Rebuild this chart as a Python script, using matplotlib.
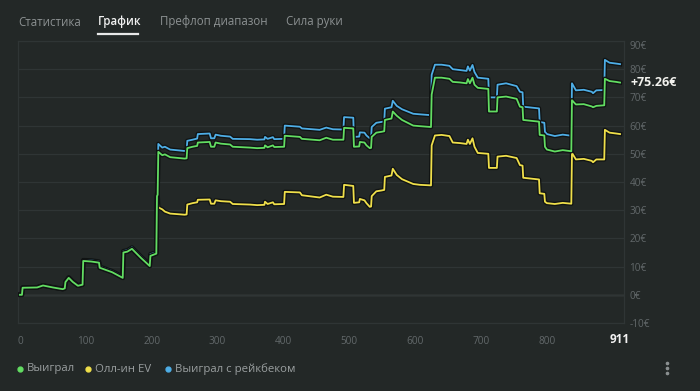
import matplotlib.pyplot as plt
import matplotlib.patheffects as pe

# hand number breakpoints and cumulative results (EUR)
hands = [0, 3, 4, 26, 35, 50, 65, 68, 69, 74, 80, 88, 95, 96, 108, 120, 121, 140, 156, 157,
         163, 170, 184, 197, 198, 207, 208, 209, 210, 216, 220, 228, 250, 253, 254, 262, 269,
         270, 288, 290, 295, 297, 305, 319, 323, 349, 360, 371, 372, 376, 384, 386, 401, 402,
         425, 428, 455, 465, 475, 491, 492, 506, 507, 515, 516, 523, 526, 531, 533, 534, 541,
         549, 553, 554, 564, 566, 572, 580, 597, 607, 624, 625, 630, 640, 652, 657, 668, 678,
         680, 683, 687, 690, 695, 711, 712, 724, 725, 738, 754, 759, 763, 764, 784, 788, 789,
         796, 797, 800, 812, 824, 837, 838, 844, 856, 868, 870, 875, 887, 888, 895, 905, 911]

won = [0, 0, 2.5, 2.6, 3.3, 2.6, 2.0, 2.3, 4.5, 6.0, 4.6, 3.2, 3.6, 12.0, 11.8, 11.4, 9.6,
       8.0, 6.0, 15.0, 15.3, 16.3, 13.0, 10.2, 13.8, 14.6, 35.0, 35.5, 50.7, 49.5, 49.8, 48.8,
       48.3, 48.4, 52.0, 52.5, 52.8, 54.0, 54.2, 52.5, 52.5, 54.0, 53.6, 53.3, 52.5, 52.2,
       52.0, 52.1, 53.0, 52.3, 53.0, 52.4, 52.5, 56.4, 56.0, 55.3, 54.8, 55.7, 55.0, 55.0,
       59.2, 59.0, 52.5, 52.6, 54.2, 54.0, 53.0, 52.0, 52.1, 56.0, 57.5, 57.8, 58.0, 62.0,
       62.5, 65.0, 63.5, 62.0, 60.0, 59.8, 59.5, 71.0, 77.0, 77.0, 76.6, 75.5, 75.3, 75.0,
       76.5, 75.0, 77.0, 74.5, 73.4, 73.0, 65.0, 65.0, 70.0, 70.3, 69.5, 66.7, 66.5, 62.0,
       61.5, 61.4, 56.7, 56.5, 52.5, 51.5, 50.8, 51.3, 50.9, 69.0, 67.5, 67.6, 66.8, 66.5,
       67.0, 67.2, 76.6, 75.8, 75.5, 75.26]

allin_ev = [0, 0, 2.5, 2.6, 3.3, 2.6, 2.0, 2.3, 4.5, 6.0, 4.6, 3.2, 3.6, 12.0, 11.8, 11.4,
            9.6, 8.0, 6.0, 15.0, 15.3, 16.3, 13.0, 10.2, 13.8, 14.6, 35.0, 35.5, 31.0, 30.3,
            29.5, 28.8, 28.4, 28.5, 32.0, 32.5, 32.8, 33.7, 33.8, 32.3, 32.3, 33.5, 33.2, 33.0,
            32.2, 32.0, 31.8, 31.9, 33.0, 32.2, 32.8, 32.1, 32.2, 36.5, 36.3, 35.3, 34.5, 35.5,
            34.8, 34.7, 39.0, 38.6, 32.6, 32.8, 34.0, 33.5, 32.5, 31.2, 31.3, 35.0, 36.7, 37.0,
            37.2, 41.8, 42.3, 44.7, 42.5, 41.0, 39.3, 39.0, 38.8, 53.0, 56.5, 56.7, 56.3, 54.0,
            53.8, 53.5, 55.0, 53.5, 55.5, 52.5, 50.3, 50.0, 45.0, 45.0, 49.0, 49.3, 48.5, 46.0,
            45.8, 41.5, 41.0, 40.9, 36.0, 35.8, 33.0, 32.5, 32.2, 32.6, 32.3, 50.3, 48.0, 48.2,
            47.5, 47.0, 48.0, 48.0, 58.5, 57.5, 57.2, 57.0]

won_rakeback = [0, 0, 2.6, 2.7, 3.4, 2.7, 2.1, 2.4, 4.6, 6.2, 4.8, 3.4, 3.8, 12.3, 12.2,
                11.8, 10.0, 8.4, 6.4, 15.5, 15.8, 16.8, 13.5, 10.7, 14.4, 15.1, 35.8, 36.3,
                53.5, 52.2, 52.5, 51.5, 51.0, 51.1, 54.6, 55.0, 55.4, 57.0, 57.2, 55.5, 55.5,
                56.8, 56.4, 56.1, 55.3, 55.2, 55.0, 55.1, 56.0, 55.3, 55.9, 55.2, 55.3, 60.0,
                59.6, 59.0, 58.5, 59.3, 58.7, 58.6, 63.0, 62.8, 56.0, 56.1, 57.6, 57.5, 56.5,
                55.5, 55.6, 59.5, 61.0, 61.3, 61.5, 66.0, 66.5, 68.8, 67.0, 65.8, 64.2, 64.0,
                63.7, 78.0, 81.6, 81.6, 81.2, 80.0, 79.7, 79.4, 81.0, 79.5, 81.5, 79.0, 77.0,
                76.6, 70.0, 70.0, 74.5, 75.0, 74.0, 72.0, 71.8, 66.7, 66.2, 66.1, 61.3, 61.0,
                57.8, 57.0, 56.3, 56.8, 56.4, 75.0, 72.5, 72.7, 72.0, 71.5, 72.5, 72.6, 83.3,
                82.3, 82.0, 81.8]

series_names = ['Выиграл', 'Олл-ин EV', 'Выиграл с рейкбеком']
tabs = ['Статистика', 'График', 'Префлоп диапазон', 'Сила руки']
x_ticks = [0, 100, 200, 300, 400, 500, 600, 700, 800]
y_ticks = [-10, 0, 10, 20, 30, 40, 50, 60, 70, 80, 90]
total_hands = 911

bg = '#232827'
green = '#62dd62'
yellow = '#efdf4a'
blue = '#4eaee6'
muted = '#62686a'

plt.rcParams['font.family'] = ['Open Sans', 'DejaVu Sans']

fig = plt.figure(figsize=(7, 3.91), dpi=100, facecolor=bg)
ax = fig.add_axes([18 / 700, 68 / 391, 606 / 700, 282 / 391])
ax.set_facecolor(bg)

shadow = [pe.Stroke(linewidth=3.2, foreground='#101313', joinstyle='round'), pe.Normal()]
for vals, col in [(allin_ev, yellow), (won_rakeback, blue), (won, green)]:
    ax.plot(hands, vals, color=col, lw=1.3, path_effects=shadow,
            solid_joinstyle='round', zorder=3)

ax.set_xlim(-3, 917)
ax.set_ylim(-10, 90)
ax.set_yticks(y_ticks)
ax.set_yticklabels([f'{v}€' for v in y_ticks])
ax.set_xticks(x_ticks)
ax.yaxis.tick_right()
ax.tick_params(length=0, colors=muted, labelsize=7.2)
ax.tick_params(axis='y', pad=4)
ax.tick_params(axis='x', pad=9)
for lab in ax.get_yticklabels():
    if lab.get_text() == '90€':
        lab.set_va('top')
ax.grid(axis='y', color='#2f3535', lw=0.9, zorder=0)
ax.axhline(0, color='#4c5253', lw=1.0, zorder=1)
for s in ax.spines.values():
    s.set_color('#2f3535')
    s.set_linewidth(0.9)

# end value and total hands
ax.annotate(f'+{won[-1]:.2f}€', xy=(1, won[-1]), xycoords=('axes fraction', 'data'),
            xytext=(5, 0), textcoords='offset points', va='center', ha='left',
            color='#f2f2ee', fontsize=9, fontweight='bold')
ax.annotate(str(total_hands), xy=(total_hands, 0), xycoords=('data', 'axes fraction'),
            xytext=(0, -12), textcoords='offset points', ha='center', va='center',
            color='#f2f2f2', fontsize=8.5, fontweight='bold')

# tabs
tab_x = [18, 98, 160, 286]
for i, (t, x) in enumerate(zip(tabs, tab_x)):
    active = i == 1
    fig.text(x / 700, 1 - 22 / 391, t, ha='left', va='center', fontsize=8.3,
             color='#f0f0f0' if active else '#8c9192',
             fontweight='semibold' if active else 'normal')
fig.add_artist(plt.Line2D([98 / 700, 138 / 700], [1 - 34 / 391] * 2, color='#e8e8e8', lw=1.6))

# legend
leg_x = [20, 88, 168]
for name, col, x in zip(series_names, [green, yellow, blue], leg_x):
    fig.add_artist(plt.Line2D([x / 700], [1 - 369 / 391], marker='o', ms=3.5, color=col, lw=0))
    fig.text((x + 7) / 700, 1 - 369 / 391, name, ha='left', va='center', fontsize=8.2,
             color='#9a9fa0')

# menu dots
for dy in [-5, 0, 5]:
    fig.add_artist(plt.Line2D([667 / 700], [1 - (368 + dy) / 391], marker='o', ms=1.6,
                              color='#8a8f90', lw=0))

fig.savefig('out.png', dpi=100, facecolor=bg)
